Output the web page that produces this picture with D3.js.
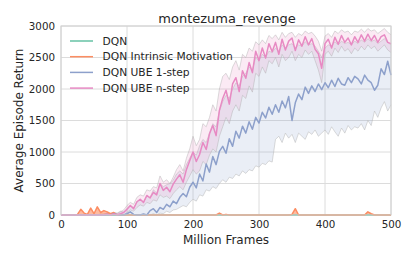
<!DOCTYPE html>
<html>
<head>
<meta charset="utf-8">
<script src="https://cdn.jsdelivr.net/npm/d3@7"></script>
<style>
  body { margin: 0; background: #fff; }
  text { font-family: "DejaVu Sans", sans-serif; fill: #262626; }
</style>
</head>
<body>
<div id="chart"></div>
<script>
// million frames, one value every 5
var frames = d3.range(0, 505, 5);

var seriesNames = ["DQN", "DQN Intrinsic Motivation", "DQN UBE 1-step", "DQN UBE n-step"];
var seriesColors = ["#66c2a5", "#fc8d62", "#8da0cb", "#e78ac3"];

var xTicks = [0, 100, 200, 300, 400, 500];
var yTicks = [0, 500, 1000, 1500, 2000, 2500, 3000];

var dqn = [
  0,0,0,0,0,0,0,0,0,0, 0,0,0,0,0,0,0,0,0,0, 0,0,0,0,0,0,0,0,0,0, 0,0,0,0,0,0,0,0,0,0,
  0,0,0,0,0,0,0,0,0,0, 0,0,0,0,0,0,0,0,0,0, 0,0,0,0,0,0,0,0,0,0, 0,0,0,0,0,0,0,0,0,0,
  0,0,0,0,0,0,0,0,0,0, 0,0,0,0,0,0,0,0,0,0, 0
];

var intrinsic = [
  0,0,0,0,0,10,90,30,10,110, 20,130,40,70,50,20,40,0,0,0,
  0,0,0,0,0,0,0,0,0,0, 0,0,0,0,0,0,0,0,0,0,
  0,0,0,0,0,0,0,0,30,0, 10,0,0,0,0,0,0,0,0,0,
  0,0,0,0,0,0,0,0,0,0, 10,100,0,0,0,0,0,0,0,0,
  0,0,0,0,0,0,0,0,0,0, 0,0,0,50,20,0,0,0,0,0, 0
];

var ube1 = [
  0,0,0,0,0,0,0,0,0,0, 0,0,0,0,10,0,20,5,0,0,
  20,50,10,0,0,15,0,70,100,40, 120,90,170,130,220,180,280,340,290,440,
  520,430,650,540,810,680,930,800,1010,1090, 980,1210,1090,1330,1220,1410,1300,1480,1360,1550,
  1460,1630,1540,1710,1600,1750,1630,1810,1700,1880, 1500,1780,1920,1830,2030,1930,2050,1960,2080,1990,
  2100,2020,2140,2040,2170,2080,2060,2180,2100,2200, 2160,2080,2220,2140,2100,1980,2060,2320,2230,2440, 2220
];
var ube1Low = [
  0,0,0,0,0,0,0,0,0,0, 0,0,0,0,0,0,0,0,0,0,
  0,0,0,0,0,0,0,0,20,0, 30,20,60,40,80,90,120,150,130,200,
  250,220,320,300,400,380,450,420,500,560, 520,600,580,650,620,700,660,720,700,780,
  760,820,800,860,840,1200,1250,1150,1300,1220, 1280,1150,1300,1250,1200,1320,1280,1350,1250,1300,
  1350,1280,1400,1320,1250,1380,1300,1420,1350,1400, 1380,1450,1350,1500,1420,1650,1550,1700,1800,1650, 1750
];
var ube1High = [
  0,0,0,0,0,0,0,0,0,0, 0,0,20,10,30,20,40,30,60,50,
  100,150,120,200,250,200,300,280,400,350, 500,450,480,500,550,650,700,650,800,900,
  1000,950,1100,1200,1150,1300,1450,1400,1650,1800, 1900,1850,2000,2100,2050,2200,2250,2350,2300,2500,
  2450,2550,2500,2600,2580,2650,2600,2700,2650,2700, 2720,2650,2700,2680,2750,2700,2720,2680,2600,2500,
  2650,2700,2680,2750,2700,2760,2720,2740,2700,2760, 2720,2780,2740,2800,2750,2780,2720,2760,2800,2740, 2700
];

var uben = [
  0,0,0,0,0,0,0,0,0,0, 0,0,0,5,10,0,15,5,20,40,
  90,150,100,210,250,200,310,270,360,320, 500,390,440,370,490,570,640,520,720,860,
  1000,850,960,1150,1040,1290,1420,1260,1660,1850, 1980,1760,2080,2180,1960,2290,2170,2420,2260,2600,
  2450,2650,2490,2720,2590,2740,2550,2790,2620,2760, 2810,2610,2780,2680,2830,2700,2800,2630,2560,2330,
  2720,2790,2650,2820,2710,2850,2740,2810,2700,2830, 2740,2860,2760,2870,2770,2850,2740,2830,2860,2740, 2720
];
var ubenLow = [
  0,0,0,0,0,0,0,0,0,0, 0,0,0,0,0,0,0,0,0,0,
  40,80,60,120,160,140,200,180,240,220, 320,280,300,260,340,400,450,400,520,620,
  720,650,700,850,800,950,1050,1000,1250,1400, 1550,1450,1650,1750,1650,1900,1850,2050,1950,2250,
  2200,2350,2250,2450,2400,2500,2350,2550,2450,2500, 2600,2450,2550,2500,2620,2550,2600,2450,2300,2100,
  2550,2600,2520,2650,2580,2680,2600,2640,2560,2650, 2600,2680,2620,2700,2640,2680,2600,2650,2700,2620, 2580
];
var ubenHigh = [
  0,0,0,0,0,0,0,0,0,0, 0,0,0,20,30,10,40,20,50,80,
  150,200,170,280,320,300,400,380,450,430, 620,520,560,500,600,720,800,700,900,1050,
  1250,1100,1200,1450,1400,1550,1750,1650,2000,2200, 2250,2150,2350,2450,2300,2550,2500,2650,2600,2750,
  2700,2780,2720,2850,2800,2860,2780,2900,2820,2880, 2900,2820,2880,2850,2920,2880,2900,2840,2760,2600,
  2840,2880,2820,2920,2880,2940,2900,2920,2860,2920, 2900,2950,2900,2960,2920,2940,2880,2920,2960,2900, 2860
];

var W = 415, H = 260;
var margin = { top: 26, right: 24, bottom: 45, left: 61 };
var width = W - margin.left - margin.right,
    height = H - margin.top - margin.bottom;

var svg = d3.select("#chart").append("svg")
  .attr("width", W)
  .attr("height", H);

var g = svg.append("g")
  .attr("transform", "translate(" + margin.left + "," + margin.top + ")");

var x = d3.scaleLinear().domain([0, 500]).range([0, width]);
var y = d3.scaleLinear().domain([0, 3000]).range([height, 0]);

//Gridlines
g.append("g").selectAll("line").data(xTicks).enter().append("line")
  .attr("x1", function (d) { return x(d); }).attr("x2", function (d) { return x(d); })
  .attr("y1", 0).attr("y2", height)
  .style("stroke", "#dcdcdc").style("stroke-width", 1);
g.append("g").selectAll("line").data(yTicks).enter().append("line")
  .attr("x1", 0).attr("x2", width)
  .attr("y1", function (d) { return y(d); }).attr("y2", function (d) { return y(d); })
  .style("stroke", "#dcdcdc").style("stroke-width", 1);

var plot = g.append("g");

function band(lo, hi, color) {
  var area = d3.area()
    .x(function (d, i) { return x(frames[i]); })
    .y0(function (d, i) { return y(lo[i]); })
    .y1(function (d, i) { return y(hi[i]); });
  plot.append("path").datum(lo).attr("d", area)
    .style("fill", color).style("fill-opacity", 0.18).style("stroke", "none");
  var edge = d3.line().x(function (d, i) { return x(frames[i]); }).y(function (d) { return y(d); });
  [lo, hi].forEach(function (arr) {
    plot.append("path").datum(arr).attr("d", edge)
      .style("fill", "none").style("stroke", "#b0b0b0").style("stroke-opacity", 0.65)
      .style("stroke-width", 0.7);
  });
}

function series(vals, color) {
  var line = d3.line().x(function (d, i) { return x(frames[i]); }).y(function (d) { return y(d); });
  plot.append("path").datum(vals).attr("d", line)
    .style("fill", "none").style("stroke", color).style("stroke-width", 1.5)
    .style("stroke-linejoin", "round");
}

band(ube1Low, ube1High, seriesColors[2]);
band(ubenLow, ubenHigh, seriesColors[3]);
// orange spikes as a filled area
plot.append("path").datum(intrinsic)
  .attr("d", d3.area().x(function (d, i) { return x(frames[i]); }).y0(y(0)).y1(function (d) { return y(d); }))
  .style("fill", seriesColors[1]).style("fill-opacity", 0.6);
series(dqn, seriesColors[0]);
series(intrinsic, seriesColors[1]);
series(ube1, seriesColors[2]);
series(uben, seriesColors[3]);

//Frame
g.append("rect").attr("width", width).attr("height", height)
  .style("fill", "none").style("stroke", "#d0d0d0").style("stroke-width", 1);

//Axes
var xAxis = g.append("g").attr("transform", "translate(0," + height + ")")
  .call(d3.axisBottom(x).tickValues(xTicks).tickFormat(d3.format("d")).tickSize(0).tickPadding(6));
var yAxis = g.append("g")
  .call(d3.axisLeft(y).tickValues(yTicks).tickFormat(d3.format("d")).tickSize(0).tickPadding(6));
[xAxis, yAxis].forEach(function (a) {
  a.select(".domain").remove();
  a.selectAll("text").style("font-size", "10.3px").style("font-family", "DejaVu Sans, sans-serif").attr("fill", "#262626");
});

//Labels
svg.append("text").attr("x", margin.left + width / 2 + 1).attr("y", 22.5)
  .attr("text-anchor", "middle").style("font-size", "13px").text("montezuma_revenge");
svg.append("text").attr("x", margin.left + width / 2).attr("y", 244)
  .attr("text-anchor", "middle").style("font-size", "12px").text("Million Frames");
svg.append("text").attr("transform", "translate(23," + (margin.top + height / 2) + ") rotate(-90)")
  .attr("text-anchor", "middle").style("font-size", "12px").text("Average Episode Return");

//Legend
var legend = svg.append("g").attr("transform", "translate(70,41)");
var rows = legend.selectAll("g").data(seriesNames).enter().append("g")
  .attr("transform", function (d, i) { return "translate(0," + (i * 15.7) + ")"; });
rows.append("line").attr("x1", 0).attr("x2", 23).attr("y1", 0).attr("y2", 0)
  .style("stroke", function (d, i) { return seriesColors[i]; }).style("stroke-width", 1.5);
rows.append("text").attr("x", 32.5).attr("y", 0).attr("dy", "0.35em")
  .style("font-size", "10.7px").text(function (d) { return d; });
</script>
</body>
</html>
